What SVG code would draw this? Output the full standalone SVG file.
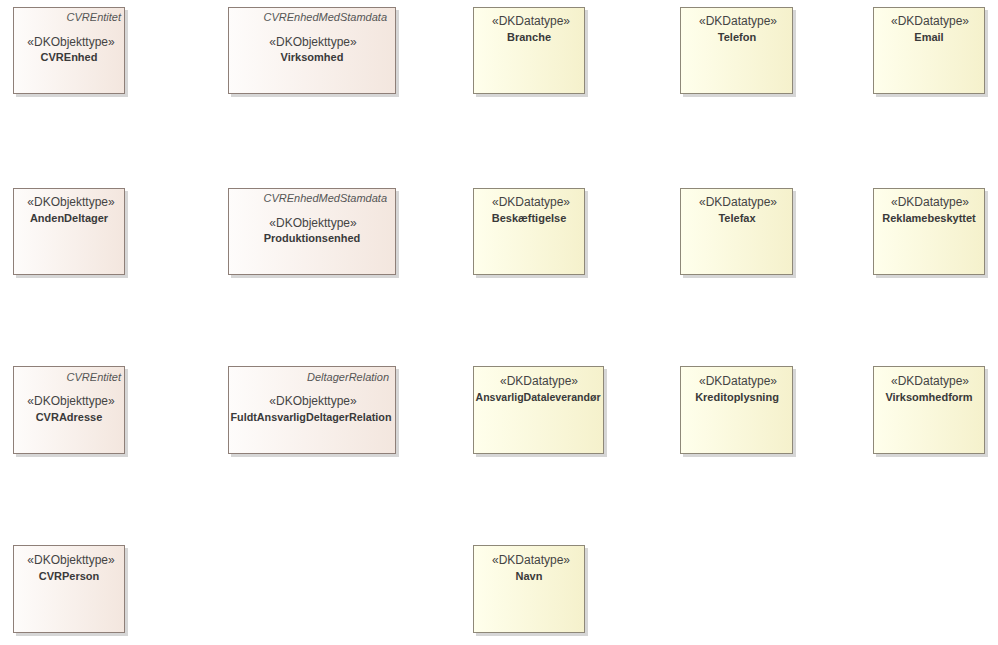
<svg xmlns="http://www.w3.org/2000/svg" width="998" height="645" viewBox="0 0 998 645">
<defs>
<linearGradient id="gObj" x1="0" y1="0" x2="1" y2="0"><stop offset="0" stop-color="#FEFCFB"/><stop offset="1" stop-color="#F3E6DE"/></linearGradient>
<linearGradient id="gDat" x1="0" y1="0" x2="1" y2="0"><stop offset="0" stop-color="#FFFFEC"/><stop offset="1" stop-color="#F5F1CC"/></linearGradient>
<style>
.sh{fill:#d6d6d6}
.obj{fill:url(#gObj);stroke:#8E7F78;stroke-width:1}
.dat{fill:url(#gDat);stroke:#8E8878;stroke-width:1}
text{font-family:"Liberation Sans",Arial,sans-serif;font-size:11px;fill:#3a3a3a}
.it{font-style:italic;text-anchor:end;fill:#555}
.st{text-anchor:middle;font-size:12px;fill:#444}
.nm{text-anchor:middle;font-weight:bold}
</style>
</defs>
<rect width="998" height="645" fill="#ffffff"/>
<g id="CVREnhed"><rect class="sh" x="16" y="10" width="112" height="87"/><rect class="obj" x="13.5" y="7.5" width="111" height="86"/><text class="it" x="121" y="21">CVREntitet</text><text class="st" x="71" y="46">«DKObjekttype»</text><text class="nm" x="69" y="61">CVREnhed</text></g>
<g id="Virksomhed"><rect class="sh" x="231" y="10" width="168" height="87"/><rect class="obj" x="228.5" y="7.5" width="167" height="86"/><text class="it" x="387" y="21">CVREnhedMedStamdata</text><text class="st" x="313" y="46">«DKObjekttype»</text><text class="nm" x="312" y="61">Virksomhed</text></g>
<g id="Branche"><rect class="sh" x="476" y="10" width="112" height="87"/><rect class="dat" x="473.5" y="7.5" width="111" height="86"/><text class="st" x="531" y="25">«DKDatatype»</text><text class="nm" x="529" y="41">Branche</text></g>
<g id="Telefon"><rect class="sh" x="683" y="10" width="113" height="87"/><rect class="dat" x="680.5" y="7.5" width="112" height="86"/><text class="st" x="738" y="25">«DKDatatype»</text><text class="nm" x="737" y="41">Telefon</text></g>
<g id="Email"><rect class="sh" x="876" y="10" width="112" height="87"/><rect class="dat" x="873.5" y="7.5" width="111" height="86"/><text class="st" x="930" y="25">«DKDatatype»</text><text class="nm" x="929" y="41">Email</text></g>

<g id="AndenDeltager"><rect class="sh" x="16" y="191" width="112" height="87"/><rect class="obj" x="13.5" y="188.5" width="111" height="86"/><text class="st" x="71" y="206">«DKObjekttype»</text><text class="nm" x="69" y="222">AndenDeltager</text></g>
<g id="Produktionsenhed"><rect class="sh" x="231" y="191" width="168" height="87"/><rect class="obj" x="228.5" y="188.5" width="167" height="86"/><text class="it" x="387" y="202">CVREnhedMedStamdata</text><text class="st" x="313" y="227">«DKObjekttype»</text><text class="nm" x="312" y="242">Produktionsenhed</text></g>
<g id="Beskaeftigelse"><rect class="sh" x="476" y="191" width="112" height="87"/><rect class="dat" x="473.5" y="188.5" width="111" height="86"/><text class="st" x="531" y="206">«DKDatatype»</text><text class="nm" x="529" y="222">Beskæftigelse</text></g>
<g id="Telefax"><rect class="sh" x="683" y="191" width="113" height="87"/><rect class="dat" x="680.5" y="188.5" width="112" height="86"/><text class="st" x="738" y="206">«DKDatatype»</text><text class="nm" x="737" y="222">Telefax</text></g>
<g id="Reklamebeskyttet"><rect class="sh" x="876" y="191" width="112" height="87"/><rect class="dat" x="873.5" y="188.5" width="111" height="86"/><text class="st" x="930" y="206">«DKDatatype»</text><text class="nm" x="929" y="222">Reklamebeskyttet</text></g>

<g id="CVRAdresse"><rect class="sh" x="16" y="369" width="112" height="88"/><rect class="obj" x="13.5" y="366.5" width="111" height="87"/><text class="it" x="121" y="381">CVREntitet</text><text class="st" x="71" y="405">«DKObjekttype»</text><text class="nm" x="69" y="421">CVRAdresse</text></g>
<g id="FuldtAnsvarligDeltagerRelation"><rect class="sh" x="231" y="369" width="168" height="88"/><rect class="obj" x="228.5" y="366.5" width="167" height="87"/><text class="it" x="389" y="381">DeltagerRelation</text><text class="st" x="313" y="405">«DKObjekttype»</text><text class="nm" x="311" y="421" textLength="161" lengthAdjust="spacingAndGlyphs">FuldtAnsvarligDeltagerRelation</text></g>
<g id="AnsvarligDataleverandoer"><rect class="sh" x="476" y="369" width="131" height="88"/><rect class="dat" x="473.5" y="366.5" width="130" height="87"/><text class="st" x="539" y="385">«DKDatatype»</text><text class="nm" x="538" y="401" textLength="125" lengthAdjust="spacingAndGlyphs">AnsvarligDataleverandør</text></g>
<g id="Kreditoplysning"><rect class="sh" x="683" y="369" width="113" height="88"/><rect class="dat" x="680.5" y="366.5" width="112" height="87"/><text class="st" x="738" y="385">«DKDatatype»</text><text class="nm" x="737" y="401">Kreditoplysning</text></g>
<g id="Virksomhedform"><rect class="sh" x="876" y="369" width="112" height="88"/><rect class="dat" x="873.5" y="366.5" width="111" height="87"/><text class="st" x="930" y="385">«DKDatatype»</text><text class="nm" x="929" y="401">Virksomhedform</text></g>

<g id="CVRPerson"><rect class="sh" x="16" y="548" width="112" height="88"/><rect class="obj" x="13.5" y="545.5" width="111" height="87"/><text class="st" x="71" y="564">«DKObjekttype»</text><text class="nm" x="69" y="580">CVRPerson</text></g>
<g id="Navn"><rect class="sh" x="476" y="548" width="112" height="88"/><rect class="dat" x="473.5" y="545.5" width="111" height="87"/><text class="st" x="531" y="564">«DKDatatype»</text><text class="nm" x="529" y="580">Navn</text></g>
<g id="connectors"></g>
</svg>
